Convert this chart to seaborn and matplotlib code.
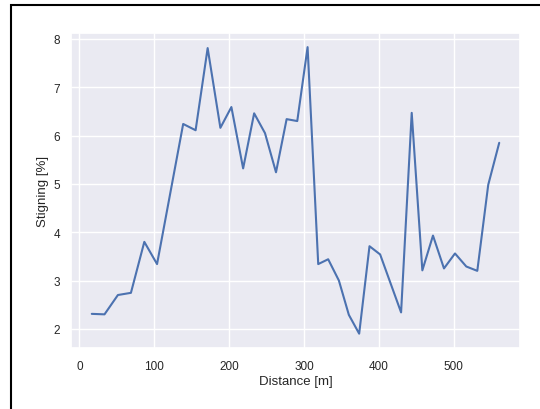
import matplotlib
matplotlib.use("Agg")
import matplotlib.pyplot as plt
import seaborn as sns
import pandas as pd
from matplotlib.patches import Rectangle

# distance along the route [m] and gradient [%]
distance = [16.6, 33.6, 51.5, 68.9, 86.8, 103.8, 138.7, 155.3, 171.4, 188.4,
            203.1, 218.8, 233.5, 248.0, 262.7, 276.9, 291.1, 304.9, 319.1, 332.4,
            346.7, 360.0, 373.8, 387.6, 401.8, 429.8, 444.0, 458.2, 472.4, 487.1,
            501.8, 516.9, 531.6, 546.2, 560.9]
stigning = [2.31, 2.30, 2.70, 2.745, 3.80, 3.34, 6.24, 6.11, 7.81, 6.16,
            6.59, 5.32, 6.46, 6.05, 5.24, 6.34, 6.30, 7.83, 3.34, 3.44,
            3.00, 2.29, 1.90, 3.71, 3.54, 2.34, 6.47, 3.21, 3.93, 3.25,
            3.56, 3.29, 3.20, 4.98, 5.85]

df = pd.DataFrame({"Distance [m]": distance, "Stigning [%]": stigning})

sns.set_theme(style="darkgrid")
plt.rcParams["font.family"] = ["Liberation Sans", "DejaVu Sans"]

fig = plt.figure(figsize=(5.4, 4.1), dpi=100)
left, right, top, bottom = 71.4, 519.6, 33.8, 349.0
ax = fig.add_axes([left / 540, 1 - bottom / 410, (right - left) / 540, (bottom - top) / 410])

sns.lineplot(data=df, x="Distance [m]", y="Stigning [%]", ax=ax, linewidth=1.5)

ax.set_xticks([0, 100, 200, 300, 400, 500])
ax.set_yticks([2, 3, 4, 5, 6, 7, 8])
ax.tick_params(labelsize=8.5, colors="#262626")
ax.tick_params(axis="x", pad=2.5)
ax.tick_params(axis="y", pad=2)
ax.set_xlabel("Distance [m]", fontsize=9.5, labelpad=2)
ax.set_ylabel("Stigning [%]", fontsize=9.5, labelpad=3)

# frame of the screenshot (only top and left edges visible)
fig.patches.append(Rectangle((10.5 / 540, -0.1), 1.2, 1.1 - 5.5 / 410,
                             transform=fig.transFigure, fill=False,
                             edgecolor="black", linewidth=1.5))

fig.savefig("out.png", dpi=100)
